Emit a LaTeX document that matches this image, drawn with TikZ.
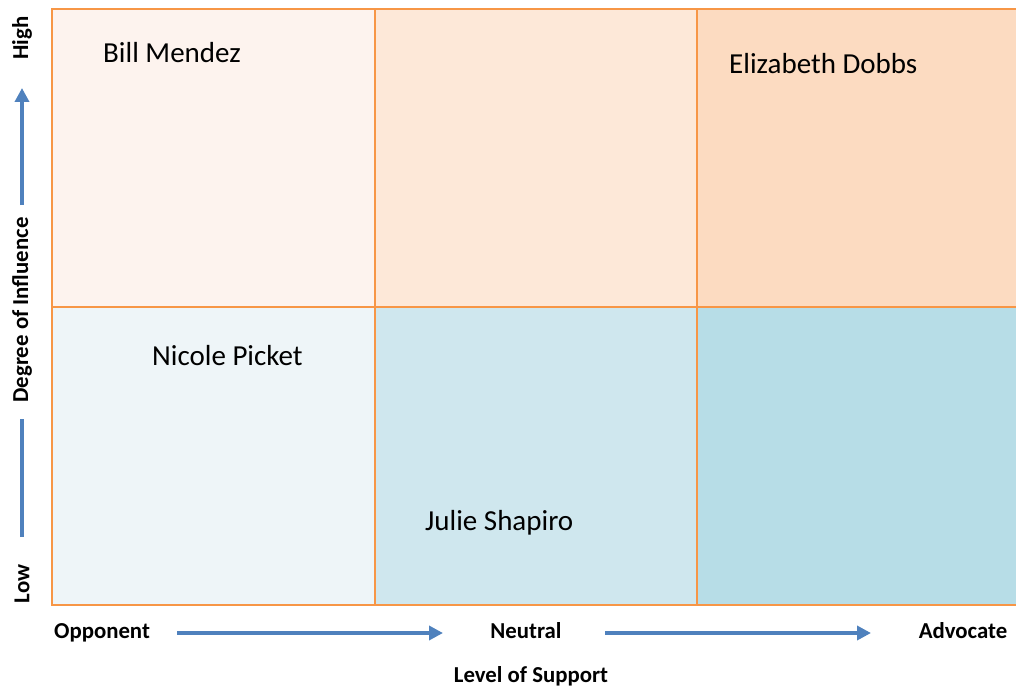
\documentclass[tikz,border=0pt]{standalone}
\usepackage{fontspec}
\setmainfont{Carlito}
\usetikzlibrary{arrows.meta}
\definecolor{tl}{HTML}{FDF3EE}
\definecolor{tm}{HTML}{FDE8D8}
\definecolor{tr}{HTML}{FCDBC1}
\definecolor{bl}{HTML}{EEF5F8}
\definecolor{bm}{HTML}{CFE7EE}
\definecolor{br}{HTML}{B7DDE7}
\definecolor{edge}{HTML}{F79646}
\definecolor{arrowblue}{HTML}{4F81BD}
\tikzset{
  cell/.style={draw=edge, line width=1.5pt},
  personlbl/.style={anchor=west, inner sep=0pt, font=\fontsize{29}{32}\selectfont},
  axislbl/.style={inner sep=0pt, font=\bfseries\fontsize{22.8}{26}\selectfont},
  hlbl/.style={axislbl, anchor=base},
  vlbl/.style={axislbl, rotate=90},
  blue arrow/.style={draw=arrowblue, line width=4.5pt, -{Triangle[length=14pt,width=14pt]}},
  blue line/.style={draw=arrowblue, line width=4.5pt}
}
\begin{document}
\begin{tikzpicture}[x=1pt,y=-1pt]
\useasboundingbox (0,0) rectangle (1016,687);
\begin{scope}
\clip (0,0) rectangle (1016,687);
\path[cell, fill=tl] (52,9) rectangle (375,307);
\path[cell, fill=tm] (375,9) rectangle (697,307);
\path[cell, fill=tr] (697,9) rectangle (1020,307);
\path[cell, fill=bl] (52,307) rectangle (375,605);
\path[cell, fill=bm] (375,307) rectangle (697,605);
\path[cell, fill=br] (697,307) rectangle (1020,605);
\end{scope}
% names
\node[personlbl] (bill) at (103,53) {Bill Mendez};
\node[personlbl] (eliz) at (729,64) {Elizabeth Dobbs};
\node[personlbl] (nicole) at (152,356) {Nicole Picket};
\node[personlbl] (julie) at (425,523) {Julie Shapiro};
% vertical axis
\node[vlbl] (high) at (22,38) {High};
\node[vlbl] (deg) at (22,310) {Degree of Influence};
\node[vlbl] (low) at (22,584) {Low};
\coordinate (vbot) at (22,537);
\coordinate (vmid1) at (22,419);
\coordinate (vmid2) at (22,205);
\coordinate (vtop) at (22,88);
\draw[blue line] (vbot) -- (vmid1);
\draw[blue arrow] (vmid2) -- (vtop);
% horizontal axis
\node[hlbl] (opp) at (102,638) {Opponent};
\node[hlbl] (neu) at (526,638) {Neutral};
\node[hlbl] (adv) at (963,638) {Advocate};
\node[hlbl] (los) at (531,682) {Level of Support};
\coordinate (h1s) at (177,633);
\coordinate (h1e) at (443,633);
\coordinate (h2s) at (605,633);
\coordinate (h2e) at (871,633);
\draw[blue arrow] (h1s) -- (h1e);
\draw[blue arrow] (h2s) -- (h2e);
\end{tikzpicture}
\end{document}
